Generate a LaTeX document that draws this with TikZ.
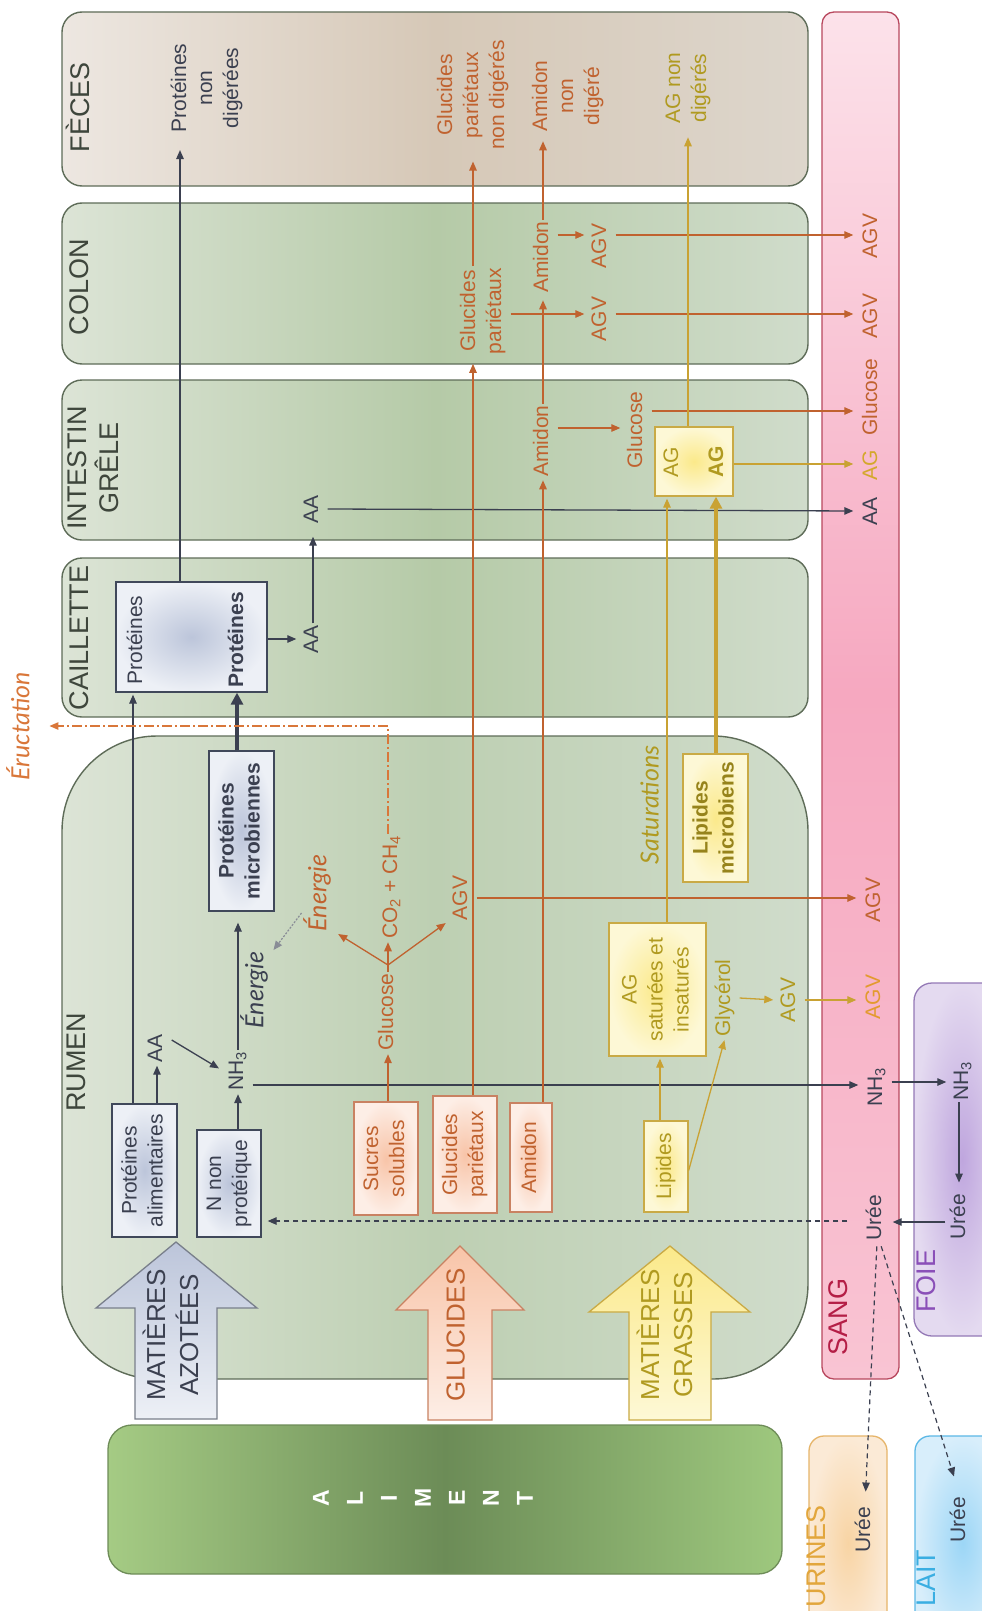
\documentclass[tikz,border=0pt]{standalone}
\usepackage{fontspec}
\setmainfont{Liberation Sans}
\newfontfamily\itf{Lato}
\usepackage{graphicx}
\usetikzlibrary{arrows.meta}
\definecolor{dkc}{HTML}{3B4050}
\definecolor{labc}{HTML}{3E463C}
\definecolor{orc}{HTML}{C0622F}
\definecolor{gdc}{HTML}{B09A20}
\definecolor{gdl}{HTML}{C9A233}
\definecolor{erc}{HTML}{D9773A}
\definecolor{sangc}{HTML}{B41E46}
\definecolor{sangb}{HTML}{B8485E}
\definecolor{foiec}{HTML}{8A4FB8}
\definecolor{urc}{HTML}{E2A63C}
\definecolor{laitc}{HTML}{3AAEE2}
\definecolor{sagc}{HTML}{D4A82C}
\definecolor{sgold}{HTML}{E39A2E}
\definecolor{compb}{HTML}{5E6C58}
\definecolor{bboxc}{HTML}{40485A}
\definecolor{oboxc}{HTML}{C98262}
\definecolor{yboxc}{HTML}{C9AA45}
\definecolor{fecL}{HTML}{EDE7E1}
\definecolor{fecM}{HTML}{D6C8B7}
\definecolor{fecR}{HTML}{DDD6CC}
\definecolor{grL}{HTML}{DCE4D6}
\definecolor{grM}{HTML}{B5CAA7}
\definecolor{grR}{HTML}{D0DCCB}
\definecolor{rumM}{HTML}{BDCFB2}
\definecolor{alL}{HTML}{A5CB84}
\definecolor{alM}{HTML}{6C8C57}
\definecolor{alR}{HTML}{9EC87E}
\definecolor{alB}{HTML}{6E8C58}
\definecolor{sangT}{HTML}{FCE2EA}
\definecolor{sangM}{HTML}{F6A8C0}
\definecolor{sangBt}{HTML}{F9C4D3}
\definecolor{foieI}{HTML}{BFA6DE}
\definecolor{foieO}{HTML}{E4DAF0}
\definecolor{foieB}{HTML}{9479B6}
\definecolor{uriI}{HTML}{F8D4A4}
\definecolor{uriO}{HTML}{FBEAD6}
\definecolor{uriB}{HTML}{E6B56A}
\definecolor{laiI}{HTML}{9CD6F6}
\definecolor{laiO}{HTML}{D8EEFB}
\definecolor{laiB}{HTML}{5BB8E6}
\definecolor{bIn}{HTML}{BCC5DA}
\definecolor{bOut}{HTML}{EDF0F6}
\definecolor{oIn}{HTML}{F8C4A8}
\definecolor{oOut}{HTML}{FDEEE6}
\definecolor{yIn}{HTML}{FBE98A}
\definecolor{yOut}{HTML}{FDF8D6}
\newcommand\fz[2]{\fontsize{#1}{#2}\selectfont}
\newcommand\rt[1]{\rotatebox{90}{\begin{tabular}{@{}c@{}}#1\end{tabular}}}
\tikzset{
  t/.style={inner sep=1.5pt, text=dkc, font=\fz{21}{26}},
  it/.style={inner sep=1.5pt, text=dkc, font=\itf\itshape\fz{25}{28}},
  lab/.style={inner sep=0pt, text=labc, font=\fz{27}{29}},
  big/.style={inner sep=0pt, font=\fz{26}{33}},
  comp/.style={draw=compb, line width=1.4pt, rounded corners=20pt},
  bbox/.style={draw=bboxc, line width=1.3pt, inner sep=0pt, text=dkc, font=\fz{21}{26}, inner color=bIn, outer color=bOut},
  obox/.style={draw=oboxc, line width=1.3pt, inner sep=0pt, text=orc, font=\fz{21}{26}, inner color=oIn, outer color=oOut},
  ybox/.style={draw=yboxc, line width=1.3pt, inner sep=0pt, text=gdc, font=\fz{21}{26}, inner color=yIn, outer color=yOut},
  arrtip/.style={-{Triangle[length=9pt,width=7.5pt]}},
  dka/.style={draw=dkc, line width=1.3pt, arrtip, shorten >=2pt},
  ora/.style={draw=orc, line width=1.3pt, arrtip, shorten >=2pt},
  gda/.style={draw=gdl, line width=1.3pt, arrtip, shorten >=2pt},
  dkd/.style={draw=dkc, line width=1.2pt, dash pattern=on 5pt off 4pt, arrtip},
}
\begin{document}
\begin{tikzpicture}[x=1pt,y=-1pt]
\useasboundingbox (0,0) rectangle (982,1611);
\fill[white] (0,0) rectangle (982,1611);
% columns / rows helpers
\coordinate (X133) at (133,0);
\coordinate (X180) at (180,0);
\coordinate (X237) at (237,0);
\coordinate (X473) at (473,0);
\coordinate (X660) at (660,0);
\coordinate (X667) at (667,0);
\coordinate (X716) at (716,0);
\coordinate (X959) at (959,0);
\coordinate (Y235) at (0,235);
\coordinate (Y314) at (0,314);
\coordinate (Y411) at (0,411);
\coordinate (Y428) at (0,428);
\coordinate (Y464) at (0,464);
\coordinate (Y1082) at (0,1082);
\coordinate (Y1085) at (0,1085);
\coordinate (Y1221) at (0,1221);
\coordinate (Y1222) at (0,1222);
% compartments
\path[comp, left color=fecL, right color=fecR, middle color=fecM] (62,12) rectangle (808,186);
\path[comp, left color=grL, right color=grR, middle color=grM] (62,203) rectangle (808,364);
\path[comp, left color=grL, right color=grR, middle color=grM] (62,380) rectangle (808,540);
\path[comp, left color=grL, right color=grR, middle color=grM] (62,558) rectangle (808,717);
\path[comp, rounded corners=95pt, left color=grL, right color=grR, middle color=rumM] (62,736) rectangle (808,1379);
\path[draw=sangb, line width=1.3pt, rounded corners=12pt, top color=sangT, bottom color=sangBt, middle color=sangM] (822,12) rectangle (899,1379);
\path[draw=foieB, line width=1.3pt, rounded corners=18pt, inner color=foieI, outer color=foieO] (914,983) rectangle (1010,1336);
\path[draw=uriB, line width=1.3pt, rounded corners=15pt, inner color=uriI, outer color=uriO] (809,1436) rectangle (887,1650);
\path[draw=laiB, line width=1.3pt, rounded corners=15pt, inner color=laiI, outer color=laiO] (915,1436) rectangle (1010,1650);
\path[draw=alB, line width=1.3pt, rounded corners=24pt, left color=alL, right color=alR, middle color=alM] (108,1425) rectangle (782,1574);
% big arrows
\path[draw=bboxc!70!white, line width=1.3pt, top color=bIn, bottom color=bOut] (135,1419) -- (135,1308) -- (96,1308) -- (176,1242) -- (257,1308) -- (217,1308) -- (217,1419) -- cycle;
\path[draw=oboxc, line width=1.3pt, top color=oIn, bottom color=oOut] (428,1420) -- (428,1310) -- (396,1310) -- (460,1246) -- (524,1310) -- (492,1310) -- (492,1420) -- cycle;
\path[draw=yboxc, line width=1.3pt, top color=yIn, bottom color=yOut] (629,1420) -- (629,1312) -- (589,1312) -- (670,1246) -- (750,1312) -- (711,1312) -- (711,1420) -- cycle;
\node[big, text=dkc] (tAzo) at (175,1335) {\rt{MATIÈRES\\AZOTÉES}};
\node[big, text=orc] (tGlu) at (458,1335) {\rt{GLUCIDES}};
\node[big, text=gdc] (tGra) at (669,1335) {\rt{MATIÈRES\\GRASSES}};
\node[inner sep=0pt, text=white, font=\bfseries\fz{23}{34}] (al) at (424,1498) {\rt{A\\L\\I\\M\\E\\N\\T}};
% compartment labels
\node[lab] (lFec) at (82,107) {\rt{FÈCES}};
\node[lab] (lCol) at (83,287) {\rt{COLON}};
\node[lab] (lInt) at (97,468) {\rt{INTESTIN\\GRÊLE}};
\node[lab] (lCai) at (83,638) {\rt{CAILLETTE}};
\node[lab] (lRum) at (80,1062) {\rt{RUMEN}};
\node[lab, text=sangc] (lSang) at (842,1317) {\rt{SANG}};
\node[lab, text=foiec] (lFoie) at (930,1281) {\rt{FOIE}};
\node[lab, text=urc] (lUri) at (820,1556) {\rt{URINES}};
\node[lab, text=laitc] (lLait) at (930,1578) {\rt{LAIT}};
% feces
\node[t] (fProt) at (207,88) {\rt{Protéines\\non\\digérées}};
\node[t, text=orc] (fGlu) at (473,95) {\rt{Glucides\\pariétaux\\non digérés}};
\node[t, text=orc] (fAmi) at (568,96) {\rt{Amidon\\non\\digéré}};
\node[t, text=gdc] (fAG) at (688,88) {\rt{AG non\\digérés}};
% colon
\node[t, text=orc] (cGlu) at (483,311) {\rt{Glucides\\pariétaux}};
\node[t, text=orc] (cAmi) at (543,257) {\rt{Amidon}};
\node[t, text=orc] (cAGV1) at (601,246) {\rt{AGV}};
\node[t, text=orc] (cAGV2) at (601,319) {\rt{AGV}};
% intestin
\node[t] (iAA) at (313,509) {\rt{AA}};
\node[t, text=orc] (iAmi) at (543,441) {\rt{Amidon}};
\node[t, text=orc] (iGlu) at (637,430) {\rt{Glucose}};
\node[ybox, minimum width=78, minimum height=69] (iAGbox) at (694,461.5) {};
\node[t, text=gdc] (iAGa) at (673,462) {\rt{AG}};
\node[t, text=gdc] (iAGb) at (718,462) {\rt{\textbf{AG}}};
% caillette
\node[bbox, minimum width=151, minimum height=110] (cb) at (191.5,637) {};
\node[t] (cbT1) at (137,640) {\rt{Protéines}};
\node[t] (cbT2) at (238,640) {\rt{\textbf{Protéines}}};
\node[t] (cAA) at (313,639) {\rt{AA}};
% rumen : nitrogen
\node[bbox, minimum width=65, minimum height=133] (pa) at (144.5,1170.5) {\rt{Protéines\\alimentaires}};
\node[bbox, minimum width=64, minimum height=107] (nn) at (229,1183.5) {\rt{N non\\protéique}};
\node[t] (rAA) at (157,1048) {\rt{AA}};
\node[t] (rNH) at (238,1071) {\rt{NH\textsubscript{3}}};
\node[it] (rEn) at (256,990) {\rt{Énergie}};
\node[bbox, minimum width=65, minimum height=160] (pm) at (241.5,831) {\rt{\textbf{Protéines}\\\textbf{microbiennes}}};
% rumen : sugars
\node[obox, minimum width=64, minimum height=113] (sBox) at (386,1158.5) {\rt{Sucres\\solubles}};
\node[obox, minimum width=64, minimum height=117] (gBox) at (465,1154.5) {\rt{Glucides\\pariétaux}};
\node[obox, minimum width=42, minimum height=109] (aBox) at (531,1157.5) {\rt{Amidon}};
\node[t, text=orc] (rGlu) at (388,1012) {\rt{Glucose}};
\coordinate (split) at (388,965);
\node[it, text=orc] (oEn) at (319,893) {\rt{Énergie}};
\node[t, text=orc] (co) at (392,887) {\rt{CO\textsubscript{2} + CH\textsubscript{4}}};
\node[t, text=orc] (rAGV) at (462,898) {\rt{AGV}};
\node[it, text=erc] (er) at (22,726) {\rt{Éructation}};
% rumen : lipids
\node[ybox, minimum width=44, minimum height=91] (lb) at (666,1166.5) {\rt{Lipides}};
\node[ybox, minimum width=97, minimum height=133] (agb) at (657.5,989.5) {\rt{AG\\saturées et\\insaturés}};
\node[t, text=gdc] (gly) at (725,998) {\rt{Glycérol}};
\node[t, text=gdc] (lAGV) at (790,1000) {\rt{AGV}};
\node[ybox, minimum width=65, minimum height=128, text=gdc!85!black] (lmb) at (715.5,818) {\rt{\textbf{Lipides}\\\textbf{microbiens}}};
\node[it, text=gdc] (sat) at (653,805) {\rt{Saturations}};
% sang
\node[t, text=orc] (sAGV1) at (872,236) {\rt{AGV}};
\node[t, text=orc] (sAGV2) at (872,316) {\rt{AGV}};
\node[t, text=orc] (sGlu) at (872,397) {\rt{Glucose}};
\node[t, text=sagc] (sAG) at (872,465) {\rt{AG}};
\node[t] (sAA) at (872,511) {\rt{AA}};
\node[t, text=orc] (sAGVr) at (875,900) {\rt{AGV}};
\node[t, text=sgold] (sAGVl) at (875,997) {\rt{AGV}};
\node[t] (sNH) at (877,1087) {\rt{NH\textsubscript{3}}};
\node[t] (sUr) at (876,1218) {\rt{Urée}};
% foie, urines, lait
\node[t] (fNH) at (963,1081) {\rt{NH\textsubscript{3}}};
\node[t] (fUr) at (960,1217) {\rt{Urée}};
\node[t] (uUr) at (865,1530) {\rt{Urée}};
\node[t] (lUr) at (960,1520) {\rt{Urée}};
% ---- connectors : nitrogen
\draw[dka] (pa.north -| X133) -- (cb.south -| X133);
\draw[dka] (pa.north -| rAA) -- (rAA.south);
\draw[dka, shorten >=5pt] ([yshift=8pt]rAA.east) -- (rNH.west);
\draw[dka] (nn.north -| rNH) -- (rNH.south);
\draw[dka, shorten >=11pt] (rNH.north) -- (pm.south -| rNH.north);
\draw[draw=dkc, line width=4.5pt, -{Triangle[length=12pt,width=12pt]}] (pm.north -| X237) -- (cb.south -| X237);
\draw[dka] (cb.east |- cAA) -- (cAA.west);
\draw[dka, shorten >=12pt] (cAA.north) -- (iAA.south);
\draw[dka, shorten >=4pt] (iAA.east) -- (sAA.west);
\draw[dka, shorten >=16pt] (cb.north -| X180) -- (fProt.south -| X180);
\draw[dka, shorten >=4pt] (rNH.east |- Y1085) -- (sNH.west |- Y1085);
\draw[dka] (sNH.east |- Y1082) -- (fNH.west |- Y1082);
\draw[dka, shorten >=10pt] (fNH.south -| X959) -- (fUr.north -| X959);
\draw[dka] (fUr.west |- Y1222) -- (sUr.east |- Y1222);
\draw[dkd, shorten <=14pt, shorten >=6pt] (sUr.west |- Y1221) -- (nn.east |- Y1221);
\draw[dkd, shorten <=4pt, shorten >=14pt] ([xshift=1pt]sUr.south) -- (uUr.north);
\draw[dkd, shorten <=4pt, shorten >=20pt] ([xshift=4pt]sUr.south) -- (lUr.north);
\draw[draw=dkc!60!white, line width=1.2pt, dash pattern=on 2pt off 1.5pt, arrtip] ([yshift=-20pt]oEn.west) -- (rEn.north east);
% ---- connectors : sugars
\draw[ora] (sBox.north -| rGlu) -- (rGlu.south);
\draw[draw=orc, line width=1.3pt] (rGlu.north) -- (split);
\draw[ora] (split) -- (oEn.south east);
\draw[ora] (split) -- (split |- co.south);
\draw[ora] (split) -- (rAGV.south west);
\draw[ora, shorten >=4pt] (rAGV.east) -- (sAGVr.west |- rAGV.east);
\draw[draw=erc, line width=1.2pt, dash pattern=on 10pt off 3pt on 2pt off 3pt, arrtip, shorten >=10pt] (co.north -| split) |- (er.east);
\draw[ora, shorten >=8pt] (gBox.north -| X473) -- (cGlu.south -| X473);
\draw[ora, shorten >=10pt] (cGlu.north -| X473) -- (fGlu.south -| X473);
\draw[ora] (aBox.north -| iAmi) -- (iAmi.south);
\draw[ora, shorten >=6pt] (iAmi.north) -- (cAmi.south);
\draw[ora, shorten >=8pt] (cAmi.north) -- (fAmi.south -| cAmi.north);
\draw[ora] (iAmi.east |- Y428) -- (iGlu.west |- Y428);
\draw[ora, shorten >=4pt] (iGlu.east |- Y411) -- (sGlu.west |- Y411);
\draw[ora] (cAmi.east |- Y235) -- (cAGV1.west |- Y235);
\draw[ora] (cGlu.east |- Y314) -- (cAGV2.west |- Y314);
\draw[ora, shorten >=4pt] (cAGV1.east |- Y235) -- (sAGV1.west |- Y235);
\draw[ora, shorten >=4pt] (cAGV2.east |- Y314) -- (sAGV2.west |- Y314);
% ---- connectors : lipids
\draw[gda] (lb.north -| X660) -- (agb.south -| X660);
\draw[gda] ([yshift=-4pt]lb.east) -- (gly.south);
\draw[gda] (gly.east) -- (lAGV.west);
\draw[gda, shorten >=4pt] (lAGV.east) -- (sAGVl.west |- lAGV.east);
\draw[gda] (agb.north -| X667) -- (iAGbox.south -| X667);
\draw[draw=gdl, line width=4.5pt, -{Triangle[length=12pt,width=12pt]}] (lmb.north -| X716) -- (iAGbox.south -| X716);
\draw[gda, shorten >=4pt] (iAGbox.east |- Y464) -- (sAG.west |- Y464);
\draw[gda, shorten >=12pt] (iAGbox.north -| fAG) -- (fAG.south);
\end{tikzpicture}
\end{document}
